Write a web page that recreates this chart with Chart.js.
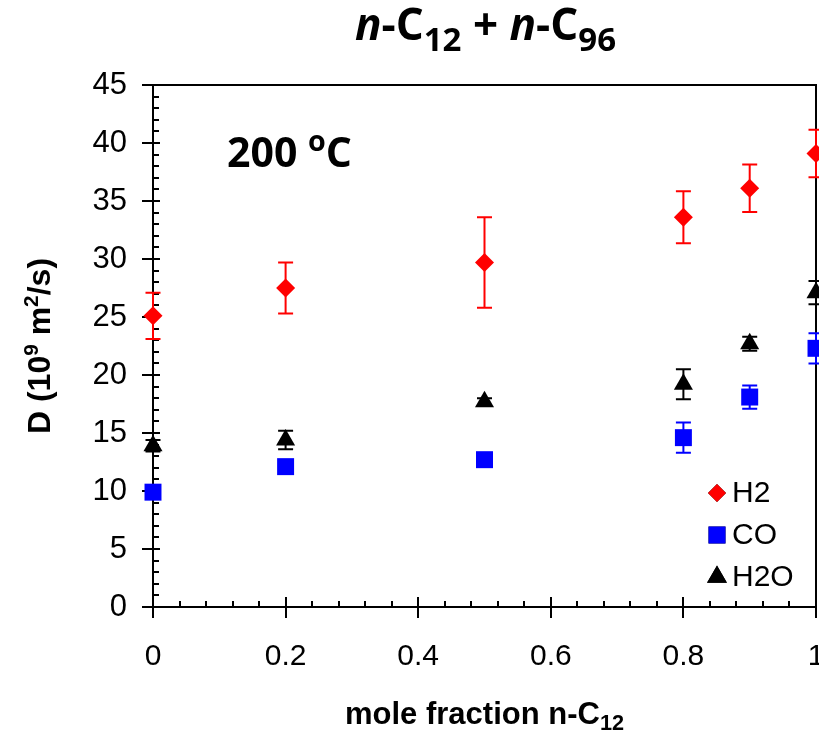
<!DOCTYPE html>
<html>
<head>
<meta charset="utf-8">
<script src="https://cdn.jsdelivr.net/npm/chart.js@4.4.0/dist/chart.umd.min.js"></script>
<style>
    html, body { margin: 0; padding: 0; background: #ffffff; }
    #wrap { width: 819px; height: 732px; }
</style>
</head>
<body>
<div id="wrap"><canvas id="chart" width="819" height="732"></canvas></div>
<script>
// 數據
var moleFraction = [0, 0.2, 0.5, 0.8, 0.9, 1];
var h2Values  = [25.1, 27.5, 29.7, 33.6, 36.1, 39.1];
var h2Errors  = [2.0, 2.2, 3.9, 2.25, 2.05, 2.05];
var coValues  = [9.9, 12.1, 12.7, 14.6, 18.1, 22.3];
var coErrors  = [0.4, 0.3, 0.3, 1.3, 1.0, 1.3];
var h2oValues = [13.9, 14.4, 17.7, 19.2, 22.7, 27.1];
var h2oErrors = [0.5, 0.8, 0.3, 1.3, 0.6, 1.0];
var seriesLabels = ['H2', 'CO', 'H2O'];
var xTicks = [0, 0.2, 0.4, 0.6, 0.8, 1];
var yTicks = [0, 5, 10, 15, 20, 25, 30, 35, 40, 45];

(function() {
    'use strict';

    var TICK_FONT = '"Liberation Sans", Arial, sans-serif';
    var TITLE_FONT = '"Open Sans", "Noto Sans", sans-serif';

    function toPoints(values) {
        return values.map(function(v, i) {
            return { x: moleFraction[i], y: v };
        });
    }

    /**
     * 畫帶上下標的文字 (parts: {t, sub, sup, italic})
     */
    function drawRich(ctx, parts, x, y, size, weight, family, align, scriptRatio, subShift) {
        var ratio = scriptRatio || 0.65;
        var shift = subShift || 0.28;
        var widths = [];
        var total = 0;
        function fontFor(p) {
            var s = (p.sub || p.sup) ? size * ratio : size;
            return (p.italic ? 'italic ' : '') + weight + ' ' + s + 'px ' + family;
        }
        parts.forEach(function(p) {
            ctx.font = fontFor(p);
            var w = ctx.measureText(p.t).width;
            widths.push(w);
            total += w;
        });
        var cx = align === 'center' ? x - total / 2 : x;
        ctx.textAlign = 'left';
        ctx.textBaseline = 'alphabetic';
        parts.forEach(function(p, i) {
            ctx.font = fontFor(p);
            var dy = p.sub ? size * shift : (p.sup ? -size * 0.38 : 0);
            ctx.fillText(p.t, cx, y + dy);
            cx += widths[i];
        });
    }

    // 外框、刻度與誤差棒
    var framePlugin = {
        id: 'frameAndErrors',
        beforeDatasetsDraw: function(chart) {
            var ctx = chart.ctx;
            var area = chart.chartArea;
            var xs = chart.scales.x;
            var ys = chart.scales.y;
            var v, p;

            ctx.save();
            ctx.strokeStyle = '#000000';
            ctx.lineWidth = 2;
            ctx.strokeRect(area.left, area.top, area.right - area.left, area.bottom - area.top);

            ctx.beginPath();
            // y 次刻度
            for (v = ys.min; v <= ys.max + 1e-9; v += 1) {
                p = Math.round(ys.getPixelForValue(v));
                ctx.moveTo(area.left, p);
                ctx.lineTo(area.left + 6, p);
            }
            // y 主刻度
            yTicks.forEach(function(t) {
                p = Math.round(ys.getPixelForValue(t));
                ctx.moveTo(area.left - 11, p);
                ctx.lineTo(area.left + 7, p);
            });
            // x 次刻度
            for (v = 0; v <= 25; v++) {
                p = Math.round(xs.getPixelForValue(v * 0.04));
                ctx.moveTo(p, area.bottom);
                ctx.lineTo(p, area.bottom - 6);
            }
            // x 主刻度
            xTicks.forEach(function(t) {
                p = Math.round(xs.getPixelForValue(t));
                ctx.moveTo(p, area.bottom - 10);
                ctx.lineTo(p, area.bottom + 11);
            });
            ctx.stroke();

            // 誤差棒
            chart.data.datasets.forEach(function(ds) {
                ctx.strokeStyle = ds.backgroundColor;
                ctx.lineWidth = 2;
                ctx.beginPath();
                ds.data.forEach(function(pt, i) {
                    var err = ds.errorBars[i];
                    var px = xs.getPixelForValue(pt.x);
                    var yTop = ys.getPixelForValue(pt.y + err);
                    var yBot = ys.getPixelForValue(pt.y - err);
                    ctx.moveTo(px, yTop);
                    ctx.lineTo(px, yBot);
                    ctx.moveTo(px - 7.5, yTop);
                    ctx.lineTo(px + 7.5, yTop);
                    ctx.moveTo(px - 7.5, yBot);
                    ctx.lineTo(px + 7.5, yBot);
                });
                ctx.stroke();
            });
            ctx.restore();
        },
        afterDraw: function(chart) {
            var ctx = chart.ctx;
            var area = chart.chartArea;
            var midX = (area.left + area.right) / 2;
            ctx.save();
            ctx.fillStyle = '#000000';

            // 標題
            drawRich(ctx, [
                { t: 'n', italic: true }, { t: '-C' }, { t: '12', sub: true },
                { t: ' + ' }, { t: 'n', italic: true }, { t: '-C' }, { t: '96', sub: true }
            ], midX + 1, 40, 44, 'bold', TITLE_FONT, 'center', 0.75, 0.25);

            // 溫度
            drawRich(ctx, [
                { t: '200 ' }, { t: 'o', sup: true }, { t: 'C' }
            ], 227, 167, 41, 'bold', TITLE_FONT, 'left', 0.7);

            // x 軸標題
            drawRich(ctx, [
                { t: 'mole fraction n-C' }, { t: '12', sub: true }
            ], midX, 724, 31, 'bold', TICK_FONT, 'center', 0.7, 0.2);

            // y 軸標題
            ctx.save();
            ctx.translate(50, (area.top + area.bottom) / 2);
            ctx.rotate(-Math.PI / 2);
            drawRich(ctx, [
                { t: 'D (10' }, { t: '9', sup: true }, { t: ' m' }, { t: '2', sup: true }, { t: '/s)' }
            ], 0, 0, 32, 'bold', TICK_FONT, 'center', 0.65);
            ctx.restore();

            // 圖例
            var legendY = [493, 535, 577];
            chart.data.datasets.forEach(function(ds, i) {
                Chart.helpers.drawPoint(ctx, {
                    pointStyle: ds.pointStyle,
                    radius: ds.legendRadius,
                    rotation: 0,
                    borderWidth: 0
                }, 717, legendY[i]);
                ctx.fillStyle = ds.backgroundColor;
                ctx.fill();
                ctx.fillStyle = '#000000';
                ctx.font = '30px ' + TICK_FONT;
                ctx.textAlign = 'left';
                ctx.textBaseline = 'middle';
                ctx.fillText(ds.label, 732, legendY[i] + 1);
            });
            ctx.restore();
        }
    };

    var ctx = document.getElementById('chart').getContext('2d');

    new Chart(ctx, {
        type: 'scatter',
        data: {
            datasets: [
                {
                    label: seriesLabels[0],
                    data: toPoints(h2Values),
                    errorBars: h2Errors,
                    backgroundColor: '#ff0000',
                    borderColor: '#ff0000',
                    pointStyle: 'rectRot',
                    pointRadius: 9.5,
                    legendRadius: 9,
                    pointBorderWidth: 0,
                    clip: false
                },
                {
                    label: seriesLabels[1],
                    data: toPoints(coValues),
                    errorBars: coErrors,
                    backgroundColor: '#0000ff',
                    borderColor: '#0000ff',
                    pointStyle: 'rect',
                    pointRadius: 12,
                    legendRadius: 12,
                    pointBorderWidth: 0,
                    clip: false
                },
                {
                    label: seriesLabels[2],
                    data: toPoints(h2oValues),
                    errorBars: h2oErrors,
                    backgroundColor: '#000000',
                    borderColor: '#000000',
                    pointStyle: 'triangle',
                    pointRadius: 11,
                    legendRadius: 11.5,
                    pointBorderWidth: 0,
                    clip: false
                }
            ]
        },
        options: {
            responsive: false,
            animation: false,
            devicePixelRatio: 1,
            layout: {
                autoPadding: false,
                padding: { top: 85, right: 3, bottom: 0, left: 0 }
            },
            plugins: {
                legend: { display: false },
                tooltip: { enabled: false },
                title: { display: false }
            },
            scales: {
                x: {
                    type: 'linear',
                    min: 0,
                    max: 1,
                    border: { display: false },
                    grid: { display: false, drawTicks: false },
                    afterBuildTicks: function(scale) {
                        scale.ticks = xTicks.map(function(v) { return { value: v }; });
                    },
                    afterFit: function(scale) {
                        scale.height = 125;
                        scale.paddingLeft = 0;
                        scale.paddingRight = 0;
                    },
                    ticks: {
                        padding: 32,
                        color: '#000000',
                        maxRotation: 0,
                        autoSkip: false,
                        font: { family: TICK_FONT, size: 30 },
                        callback: function(value) { return String(value); }
                    }
                },
                y: {
                    type: 'linear',
                    min: 0,
                    max: 45,
                    border: { display: false },
                    grid: { display: false, drawTicks: false },
                    afterBuildTicks: function(scale) {
                        scale.ticks = yTicks.map(function(v) { return { value: v }; });
                    },
                    afterFit: function(scale) {
                        scale.width = 153;
                        scale.paddingTop = 0;
                        scale.paddingBottom = 0;
                    },
                    ticks: {
                        padding: 26,
                        color: '#000000',
                        font: { family: TICK_FONT, size: 31 }
                    }
                }
            }
        },
        plugins: [framePlugin]
    });
})();
</script>
</body>
</html>
